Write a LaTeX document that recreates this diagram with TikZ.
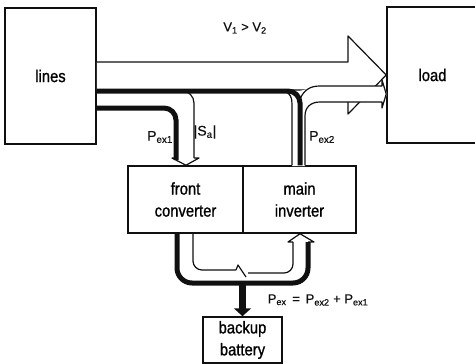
\documentclass[tikz,border=0pt]{standalone}
\usepackage{fontspec}
\setsansfont{Liberation Sans}[FakeBold=0.6]
\newfontfamily\narrowsans{Liberation Sans}[FakeStretch=0.87, FakeBold=1]
\usetikzlibrary{arrows.meta, calc}

\begin{document}
\begin{tikzpicture}[
    x=1pt, y=-1pt,
    every node/.style={font=\sffamily},
    box/.style={draw=ink, line width=1.5pt, fill=white, align=center,
                inner sep=0pt, font=\narrowsans\fontsize{17}{22}\selectfont},
    thinedge/.style={draw=ink, line width=1.2pt, line join=round},
    heavy/.style={draw=ink, line width=5pt},
    flowlabel/.style={font=\sffamily\fontsize{14}{16}\selectfont, text=ink, inner sep=1pt},
]

\definecolor{ink}{HTML}{101010}

\def\rr{12pt}   % bend of the power paths

\fill[white] (0,0) rectangle (475,364);
\useasboundingbox (0,0) rectangle (475,364);

% ---------------------------------------------------------------- blocks
\foreach \name/\cx/\cy/\w/\h/\txt in {%
    lines/50.5/76/91/136/{lines},
    load/432.5/75/91/136/{load},
    front/185.5/199.5/115/67/{front\\converter},
    main/299.5/199.5/113/67/{main\\inverter},
    battery/242.5/340/79/46/{backup\\battery}} {
  \node[box, minimum width=\w, minimum height=\h] (\name) at (\cx,\cy) {\txt};
}

% ---------------------------------------------------------------- lines -> load
\draw[thinedge, fill=white] (lines.east |- 0,62) -- (348,62) -- (348,36)
    -- (load.west) -- (348,114) -- (348,90) -- (lines.east |- 0,90);

% ---------------------------------------------------------------- Pex2, main inverter -> load
% the band is filled so that it hides the lower half of the big head
\fill[white] (292,166) -- (292,100) -- (300,91) -- (318,86) -- (382,86) -- (382,80)
    -- (387,94) -- (382,108) -- (382,102) -- (318,102) -- (305,114) -- (305,166) -- cycle;
\draw[thinedge] (main.north -| 292,0) -- (292,104) .. controls (292,97) and (290,94) .. (286,92);
\draw[thinedge] (300,99) .. controls (304,90) and (310,86) .. (320,86) -- (382,86) -- (382,80)
    -- (load.west |- 0,94) -- (382,108) -- (382,102) -- (320,102)
    .. controls (311,102) and (305,107) .. (305,116) -- (main.north -| 305,0);

\draw[heavy, rounded corners=\rr] (lines.east |- 0,91) -- (300,91) -- (main.north -| 300,0);

% ---------------------------------------------------------------- |Sa| and Pex1 into the front converter
\draw[thinedge, rounded corners=\rr] (180,91) -- (194,91) -- (194,158);
\draw[thinedge] (194,158) -- (199,158) -- (front.north -| 186,0) -- (172,158) -- (176,158);
\draw[heavy, rounded corners=\rr] (lines.east |- 0,108) -- (176,108) -- (176,160);

% ---------------------------------------------------------------- battery paths
\draw[heavy, rounded corners=15pt] (front.south -| 177,0) -- (177,283) -- (308,283) -- (308,242);
\draw[thinedge, rounded corners=9pt] (front.south -| 193,0) -- (193,270) -- (236,270);
\draw[thinedge] (236,270) -- (238,265) -- (246,277);
\draw[thinedge, rounded corners=9pt] (248,273) -- (293,273) -- (293,242);
\draw[thinedge] (293,242) -- (288,242) -- (main.south -| 300,0) -- (314,242) -- (308,242);
\draw[ink, line width=7pt, -{Triangle[width=17pt, length=8pt]}]
    (battery.north |- 0,283) -- (battery.north);

% ---------------------------------------------------------------- labels
\node[flowlabel, font=\sffamily\fontsize{13}{15}\selectfont] (ratio) at (245,28)
    {V\textsubscript{1} > V\textsubscript{2}};
\node[flowlabel] (pexone) at (160,137) {P\textsubscript{ex1}};
\node[flowlabel] (sa) at (205,132) {|S\textsubscript{a}|};
\node[flowlabel] (pextwo) at (322,137) {P\textsubscript{ex2}};
\node[flowlabel, font=\sffamily\fontsize{13}{15}\selectfont] (pexsum) at (318,300)
    {P\textsubscript{ex}\ \,=\ \,P\textsubscript{ex2}\ +\ P\textsubscript{ex1}};

\end{tikzpicture}
\end{document}
